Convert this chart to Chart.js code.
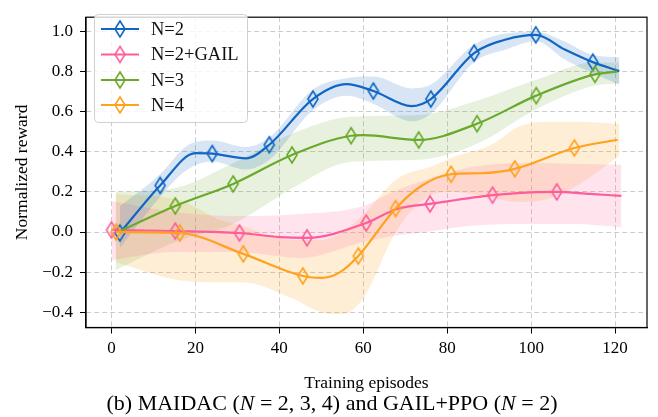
<!DOCTYPE html>
<html><head><meta charset="utf-8">
<script src="https://cdn.jsdelivr.net/npm/chart.js@4.4.1/dist/chart.umd.min.js"></script>
<style>
html,body{margin:0;padding:0;background:#fff;}
#wrap{position:relative;width:658px;height:417px;}
#caption{position:absolute;left:0;top:391px;width:664px;text-align:center;font:22px "Liberation Serif",serif;line-height:24px;color:#000;white-space:nowrap;}
</style></head><body>
<div id="wrap"><canvas id="c" width="658" height="417"></canvas>
<div id="caption">(b) MAIDAC (<i>N</i> = 2, 3, 4) and GAIL+PPO (<i>N</i> = 2)</div></div>
<script>
// ---------- data ----------
const seriesNames = ["N=2", "N=2+GAIL", "N=3", "N=4"];
const xTicks = [0, 20, 40, 60, 80, 100, 120];
const yTicks = [-0.4, -0.2, 0.0, 0.2, 0.4, 0.6, 0.8, 1.0];

// N=2
const n2X = [2, 11.6, 20, 24, 32, 37.6, 48, 56, 62.4, 71.5, 76.1, 86.4, 94, 101.1, 108, 114.7, 121];
const n2Y = [-0.005, 0.232, 0.393, 0.391, 0.367, 0.435, 0.663, 0.737, 0.703, 0.628, 0.663, 0.892, 0.96, 0.983, 0.91, 0.847, 0.802];
const n2MarkX = [2, 11.6, 24, 37.6, 48, 62.4, 76.1, 86.4, 101.1, 114.7];
const n2MarkY = [-0.005, 0.232, 0.391, 0.435, 0.663, 0.703, 0.663, 0.892, 0.983, 0.847];
const n2BandX = [2, 11.6, 18, 24, 32, 37.6, 48, 56, 62.4, 71.5, 76.1, 86.4, 94, 101.1, 108, 114.7, 121];
const n2Lo = [-0.08, 0.176, 0.31, 0.352, 0.312, 0.36, 0.607, 0.679, 0.64, 0.552, 0.59, 0.847, 0.91, 0.951, 0.86, 0.791, 0.735];
const n2Hi = [0.128, 0.288, 0.43, 0.456, 0.424, 0.471, 0.711, 0.767, 0.775, 0.716, 0.735, 0.935, 0.99, 0.999, 0.95, 0.882, 0.871];

// N=2+GAIL
const gailX = [0, 15.2, 30.5, 40, 46.6, 60.7, 68, 75.9, 90.8, 100, 106.1, 114, 121.5];
const gailY = [0.01, 0.005, -0.005, -0.025, -0.029, 0.045, 0.115, 0.14, 0.184, 0.198, 0.2, 0.19, 0.18];
const gailMarkX = [0, 15.2, 30.5, 46.6, 60.7, 75.9, 90.8, 106.1];
const gailMarkY = [0.01, 0.005, -0.005, -0.029, 0.045, 0.14, 0.184, 0.2];
const gailBandX = [0, 15, 30, 45, 60, 67, 75, 85, 100, 110, 121.5];
const gailLo = [-0.14, -0.1, -0.1, -0.13, -0.05, -0.02, 0.0, 0.03, 0.04, 0.04, 0.024];
const gailHi = [0.155, 0.1, 0.08, 0.09, 0.13, 0.2, 0.26, 0.32, 0.345, 0.34, 0.335];

// N=3
const n3X = [1.5, 15.2, 29, 43, 57.1, 60, 73.2, 87.1, 101.2, 115.2, 120.5];
const n3Y = [0.0, 0.13, 0.24, 0.384, 0.48, 0.483, 0.459, 0.54, 0.68, 0.786, 0.80];
const n3MarkX = [15.2, 29, 43, 57.1, 73.2, 87.1, 101.2, 115.2];
const n3MarkY = [0.13, 0.24, 0.384, 0.48, 0.459, 0.54, 0.68, 0.786];
const n3BandX = [1, 15.2, 29, 43, 57.1, 73.2, 87.1, 101.2, 115.2, 121];
const n3Lo = [-0.19, -0.05, 0.04, 0.217, 0.35, 0.36, 0.44, 0.612, 0.73, 0.74];
const n3Hi = [0.2, 0.22, 0.343, 0.49, 0.575, 0.583, 0.655, 0.759, 0.847, 0.845];

// N=4
const n4X = [1.1, 16.3, 31.4, 45.6, 50, 54.5, 58.8, 67.7, 74, 80.9, 88, 96.1, 110.3, 120.6];
const n4Y = [0.0, -0.005, -0.109, -0.219, -0.229, -0.2, -0.12, 0.117, 0.232, 0.288, 0.293, 0.315, 0.419, 0.46];
const n4MarkX = [1.1, 16.3, 31.4, 45.6, 58.8, 67.7, 80.9, 96.1, 110.3];
const n4MarkY = [0.0, -0.005, -0.109, -0.219, -0.12, 0.117, 0.288, 0.315, 0.419];
const n4BandX = [1, 16, 26, 31, 43, 50, 55, 60, 68, 76.7, 81, 91, 96.5, 103, 111, 121];
const n4Lo = [-0.15, -0.24, -0.25, -0.25, -0.33, -0.40, -0.41, -0.33, 0.008, 0.19, 0.2, 0.17, 0.15, 0.16, 0.232, 0.38];
const n4Hi = [0.19, 0.16, 0.06, 0.03, -0.04, -0.04, 0.0, 0.087, 0.264, 0.33, 0.37, 0.44, 0.52, 0.55, 0.55, 0.54];

// ---------- styling ----------
const colors = ["#1166c4", "#ff5c9c", "#6aaa2a", "#ffa21e"];
const bandRGBA = ["rgba(17,102,196,0.17)", "rgba(255,92,156,0.17)", "rgba(106,170,42,0.16)", "rgba(255,162,30,0.18)"];
const FONT = '"Liberation Serif", "Times New Roman", serif';

function diamond(color) {
  const c = document.createElement('canvas');
  c.width = 14; c.height = 20;
  const g = c.getContext('2d');
  g.strokeStyle = color; g.lineWidth = 1.6;
  g.beginPath();
  g.moveTo(7, 2); g.lineTo(12, 10); g.lineTo(7, 18); g.lineTo(2, 10); g.closePath();
  g.stroke();
  return c;
}
const markers = colors.map(diamond);

const pts = (xs, ys) => xs.map((x, i) => ({x: x, y: ys[i]}));

const series = [
  {cx: n2X, cy: n2Y, mx: n2MarkX, my: n2MarkY, bx: n2BandX, lo: n2Lo, hi: n2Hi},
  {cx: gailX, cy: gailY, mx: gailMarkX, my: gailMarkY, bx: gailBandX, lo: gailLo, hi: gailHi},
  {cx: n3X, cy: n3Y, mx: n3MarkX, my: n3MarkY, bx: n3BandX, lo: n3Lo, hi: n3Hi},
  {cx: n4X, cy: n4Y, mx: n4MarkX, my: n4MarkY, bx: n4BandX, lo: n4Lo, hi: n4Hi}
];

const datasets = [];
series.forEach((s, i) => {
  const loIdx = datasets.length;
  datasets.push({label: seriesNames[i] + ' lo', data: pts(s.bx, s.lo), borderWidth: 0, pointRadius: 0,
    fill: false, cubicInterpolationMode: 'monotone', order: 100 + i, borderColor: 'rgba(0,0,0,0)'});
  datasets.push({label: seriesNames[i] + ' hi', data: pts(s.bx, s.hi), borderWidth: 0, pointRadius: 0,
    fill: {target: loIdx}, backgroundColor: bandRGBA[i], cubicInterpolationMode: 'monotone', order: 100 + i, borderColor: 'rgba(0,0,0,0)'});
});
series.forEach((s, i) => {
  datasets.push({label: seriesNames[i], data: pts(s.cx, s.cy), borderColor: colors[i], borderWidth: 2.2,
    pointRadius: 0, fill: false, cubicInterpolationMode: 'monotone', order: 50 - i * 2});
  datasets.push({label: seriesNames[i] + ' markers', data: pts(s.mx, s.my), showLine: false,
    pointStyle: markers[i], pointRadius: 5, order: 49 - i * 2});
});

const framePlugin = {
  id: 'frame',
  afterDatasetsDraw(chart) {
    const {ctx, chartArea: a} = chart;
    ctx.save();
    ctx.strokeStyle = '#000'; ctx.lineWidth = 1.2;
    ctx.strokeRect(a.left, a.top, a.right - a.left, a.bottom - a.top);
    ctx.restore();
  }
};

const legendPlugin = {
  id: 'customLegend',
  afterDraw(chart) {
    const ctx = chart.ctx;
    ctx.save();
    const x0 = 94.5, y0 = 14.5, w = 153, h = 108, r = 4;
    ctx.beginPath();
    ctx.moveTo(x0 + r, y0); ctx.lineTo(x0 + w - r, y0); ctx.arcTo(x0 + w, y0, x0 + w, y0 + r, r);
    ctx.lineTo(x0 + w, y0 + h - r); ctx.arcTo(x0 + w, y0 + h, x0 + w - r, y0 + h, r);
    ctx.lineTo(x0 + r, y0 + h); ctx.arcTo(x0, y0 + h, x0, y0 + h - r, r);
    ctx.lineTo(x0, y0 + r); ctx.arcTo(x0, y0, x0 + r, y0, r);
    ctx.closePath();
    ctx.fillStyle = 'rgba(255,255,255,0.8)'; ctx.fill();
    ctx.strokeStyle = '#d0d0d0'; ctx.lineWidth = 1; ctx.stroke();
    const rows = [29, 54.5, 80, 105];
    seriesNames.forEach((name, i) => {
      const y = rows[i];
      ctx.strokeStyle = colors[i]; ctx.lineWidth = 2.2;
      ctx.beginPath(); ctx.moveTo(101, y); ctx.lineTo(139, y); ctx.stroke();
      ctx.drawImage(markers[i], 120 - 7, y - 10);
      ctx.fillStyle = '#111'; ctx.font = '18.5px ' + FONT; ctx.textBaseline = 'middle'; ctx.textAlign = 'left';
      ctx.fillText(name, 151, y + 1);
    });
    ctx.restore();
  }
};

const gridOpts = {color: '#cccccc', lineWidth: 1, tickLength: 6, tickColor: '#000', tickWidth: 1};
const borderOpts = {display: true, color: '#000', width: 1.2, dash: [5, 3]};

new Chart(document.getElementById('c'), {
  type: 'line',
  data: {datasets: datasets},
  options: {
    responsive: false, animation: false, devicePixelRatio: 1,
    layout: {padding: {left: 0, right: 11, top: 5, bottom: 0}},
    plugins: {legend: {display: false}, tooltip: {enabled: false}},
    scales: {
      x: {
        type: 'linear', min: -6.07, max: 127.6,
        afterFit(s) { s.height = 89.5; },
        afterBuildTicks(s) { s.ticks = xTicks.map(v => ({value: v})); },
        ticks: {color: '#000', font: {family: FONT, size: 17}, padding: 5, maxRotation: 0,
          callback: v => String(v)},
        grid: gridOpts,
        border: borderOpts,
        title: {display: true, text: 'Training episodes', color: '#000', font: {family: FONT, size: 17.5}, padding: {top: 0, bottom: 23}}
      },
      y: {
        type: 'linear', min: -0.476, max: 1.071,
        afterFit(s) { s.width = 86; },
        afterBuildTicks(s) { s.ticks = yTicks.map(v => ({value: v})); },
        ticks: {color: '#000', font: {family: FONT, size: 17}, padding: 7,
          callback: v => v.toFixed(1).replace('-', '\u2212')},
        grid: gridOpts,
        border: borderOpts,
        title: {display: true, text: 'Normalized reward', color: '#000', font: {family: FONT, size: 17.5}, padding: {top: 12, bottom: 0}}
      }
    }
  },
  plugins: [framePlugin, legendPlugin]
});
</script>
</body></html>
